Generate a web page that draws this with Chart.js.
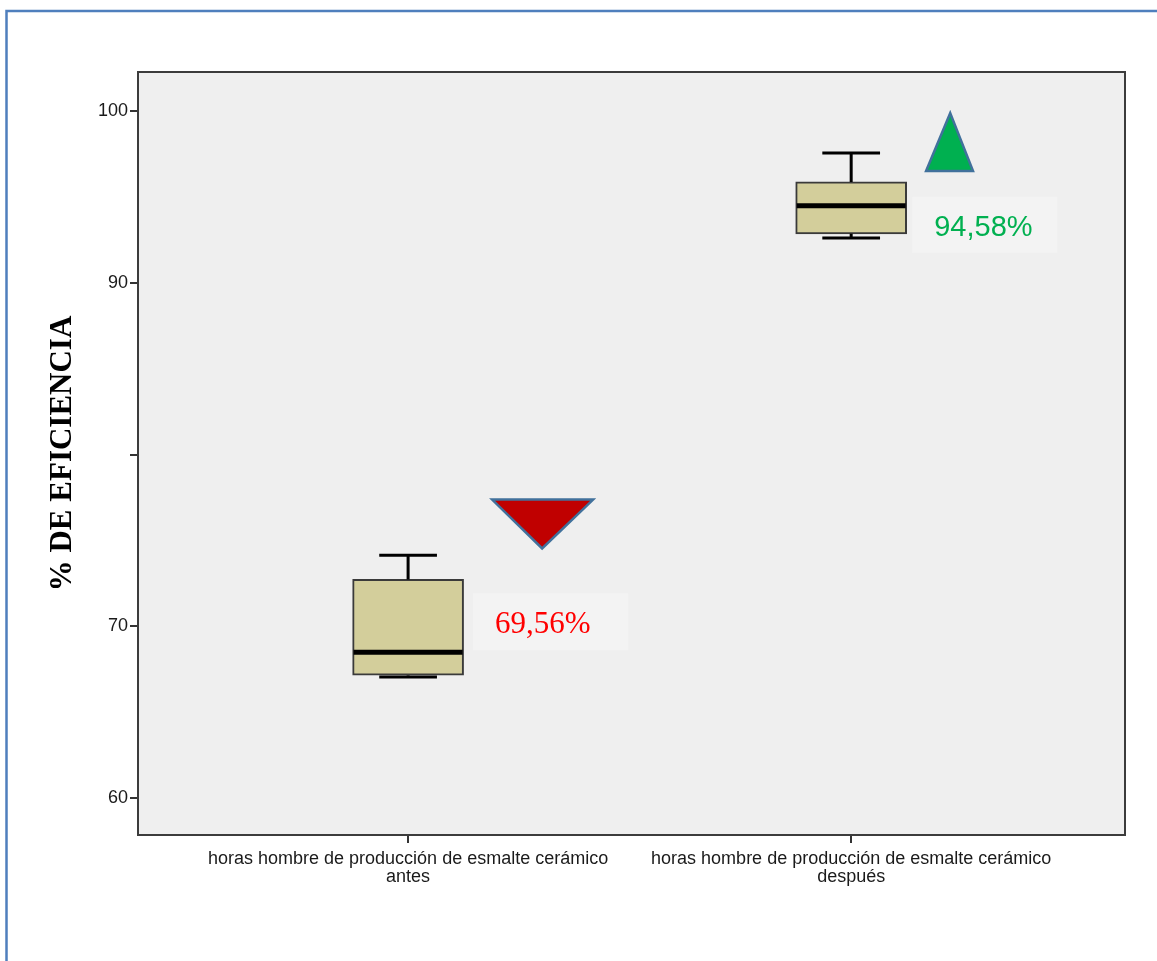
<!DOCTYPE html>
<html>
<head>
<meta charset="utf-8">
<script src="https://cdn.jsdelivr.net/npm/chart.js@4/dist/chart.umd.min.js"></script>
<style>
  html, body { margin: 0; padding: 0; background: #ffffff; }
  #wrap { width: 1157px; height: 961px; }
</style>
</head>
<body>
<div id="wrap"><canvas id="c" width="1157" height="961"></canvas></div>
<script>
// Category labels (two lines each)
const categories = [
  ['horas hombre de producción de esmalte cerámico', 'antes'],
  ['horas hombre de producción de esmalte cerámico', 'después']
];
// Five-number summaries per category
const whiskerLow  = [67.10, 92.67];
const q1Values    = [67.15, 92.85];
const medians     = [68.49, 94.48];
const q3Values    = [72.73, 95.87];
const whiskerHigh = [74.13, 97.56];
// Efficiency averages shown as callouts
const averages    = [69.56, 94.58];
// Y axis ticks and their labels
const yTickValues = [60, 70, 80, 90, 100];
const yTickLabels = ['60', '70', '', '90', '100'];

// Callout decorations, placed in data units
const callouts = [
  { cat: 0, color: '#ff0000', font: '31px "Liberation Serif", "Times New Roman", serif',
    box: { x0: 0.1467, x1: 0.4966, y0: 71.92, y1: 68.60 },
    tri: { x0: 0.1896, x1: 0.4176, xTip: 0.3025, yBase: 77.38, yTip: 74.53, fill: '#c00000' } },
  { cat: 1, color: '#00b050', font: '29px "Liberation Sans", Arial, sans-serif',
    box: { x0: 1.1377, x1: 1.4650, y0: 95.00, y1: 91.74 },
    tri: { x0: 1.169, x1: 1.275, xTip: 1.2235, yBase: 96.51, yTip: 99.88, fill: '#00b050' } }
];

const fmtPct = v => v.toFixed(2).replace('.', ',') + '%';

// Page frame, plot panel and border
const framePlugin = {
  id: 'frame',
  beforeDraw(chart) {
    const ctx = chart.ctx, a = chart.chartArea;
    ctx.save();
    ctx.fillStyle = '#ffffff';
    ctx.fillRect(0, 0, chart.width, chart.height);
    ctx.strokeStyle = '#4f7fbd';
    ctx.lineWidth = 2.5;
    ctx.beginPath();
    ctx.moveTo(6.5, chart.height + 2);
    ctx.lineTo(6.5, 11);
    ctx.lineTo(chart.width + 2, 11);
    ctx.stroke();
    ctx.fillStyle = '#efefef';
    ctx.fillRect(a.left, a.top, a.right - a.left, a.bottom - a.top);
    ctx.restore();
  },
  afterDraw(chart) {
    const ctx = chart.ctx, a = chart.chartArea;
    ctx.save();
    ctx.strokeStyle = '#3c3c3c';
    ctx.lineWidth = 2;
    ctx.strokeRect(a.left, a.top, a.right - a.left, a.bottom - a.top);
    ctx.restore();
  }
};

// Whiskers and medians on top of the boxes
const boxPlugin = {
  id: 'boxParts',
  afterDatasetsDraw(chart) {
    const ctx = chart.ctx, xs = chart.scales.x, ys = chart.scales.y;
    const meta = chart.getDatasetMeta(0);
    ctx.save();
    ctx.strokeStyle = '#000000';
    categories.forEach((_, i) => {
      const xc = xs.getPixelForValue(i);
      const bar = meta.data[i];
      const half = bar.width / 2;
      const cap = half * 0.52;
      const yHi = ys.getPixelForValue(whiskerHigh[i]);
      const yQ3 = ys.getPixelForValue(q3Values[i]);
      const yQ1 = ys.getPixelForValue(q1Values[i]);
      const yLo = ys.getPixelForValue(whiskerLow[i]);
      const yMed = ys.getPixelForValue(medians[i]);
      ctx.lineWidth = 3;
      ctx.beginPath();
      ctx.moveTo(xc, yQ3); ctx.lineTo(xc, yHi);
      ctx.moveTo(xc - cap, yHi); ctx.lineTo(xc + cap, yHi);
      ctx.moveTo(xc, yQ1); ctx.lineTo(xc, yLo);
      ctx.moveTo(xc - cap, yLo + 1); ctx.lineTo(xc + cap, yLo + 1);
      ctx.stroke();
      ctx.lineWidth = 5;
      ctx.beginPath();
      ctx.moveTo(xc - half + 1, yMed); ctx.lineTo(xc + half - 1, yMed);
      ctx.stroke();
    });
    ctx.restore();
  }
};

// Arrow triangles and percentage callouts
const calloutPlugin = {
  id: 'callouts',
  afterDatasetsDraw(chart) {
    const ctx = chart.ctx, xs = chart.scales.x, ys = chart.scales.y;
    ctx.save();
    callouts.forEach(c => {
      const bx0 = xs.getPixelForValue(c.box.x0), bx1 = xs.getPixelForValue(c.box.x1);
      const by0 = ys.getPixelForValue(c.box.y0), by1 = ys.getPixelForValue(c.box.y1);
      ctx.fillStyle = '#f3f3f3';
      ctx.fillRect(bx0, by0, bx1 - bx0, by1 - by0);
      ctx.font = c.font;
      ctx.fillStyle = c.color;
      ctx.textAlign = 'left';
      ctx.textBaseline = 'middle';
      ctx.fillText(fmtPct(averages[c.cat]), bx0 + 22, (by0 + by1) / 2 + 3);

      const t = c.tri;
      ctx.beginPath();
      ctx.moveTo(xs.getPixelForValue(t.x0), ys.getPixelForValue(t.yBase));
      ctx.lineTo(xs.getPixelForValue(t.x1), ys.getPixelForValue(t.yBase));
      ctx.lineTo(xs.getPixelForValue(t.xTip), ys.getPixelForValue(t.yTip));
      ctx.closePath();
      ctx.fillStyle = t.fill;
      ctx.fill();
      ctx.lineWidth = 2.5;
      ctx.strokeStyle = '#41719c';
      ctx.lineJoin = 'miter';
      ctx.stroke();
    });
    ctx.restore();
  }
};

new Chart(document.getElementById('c'), {
  type: 'bar',
  data: {
    datasets: [{
      data: categories.map((_, i) => ({ x: i, y: [q1Values[i], q3Values[i]] })),
      backgroundColor: '#d3ce9b',
      borderColor: '#3a3a3a',
      borderWidth: 2,
      borderSkipped: false,
      barThickness: 111
    }]
  },
  options: {
    responsive: false,
    animation: false,
    layout: { padding: { top: 72, right: 32, left: 0, bottom: 0 } },
    plugins: { legend: { display: false }, tooltip: { enabled: false } },
    scales: {
      x: {
        type: 'linear',
        offset: false,
        min: -0.6096,
        max: 1.618,
        afterFit(s) { s.height = 126; },
        afterBuildTicks(s) { s.ticks = categories.map((_, i) => ({ value: i })); },
        grid: { offset: false, drawOnChartArea: false, tickLength: 8, color: '#333333', lineWidth: 2 },
        border: { display: true, color: '#3c3c3c', width: 2 },
        ticks: {
          autoSkip: false, maxRotation: 0, minRotation: 0, padding: 7,
          color: '#1a1a1a',
          font: { family: '"Liberation Sans", Arial, sans-serif', size: 18, lineHeight: 1.0 },
          callback: v => categories[v]
        }
      },
      y: {
        min: 57.85,
        max: 102.27,
        afterFit(s) { s.width = 138; },
        afterBuildTicks(s) { s.ticks = yTickValues.map(v => ({ value: v })); },
        grid: { drawOnChartArea: false, tickLength: 8, color: '#333333', lineWidth: 2 },
        border: { display: true, color: '#3c3c3c', width: 2 },
        ticks: {
          padding: 2, color: '#1a1a1a',
          font: { family: '"Liberation Sans", Arial, sans-serif', size: 18 },
          callback: v => yTickLabels[yTickValues.indexOf(v)]
        },
        title: {
          display: true,
          text: '% DE EFICIENCIA',
          color: '#000000',
          padding: { top: 44, bottom: 0 },
          font: { family: '"Liberation Serif", "Times New Roman", serif', size: 31, weight: 'bold', lineHeight: 1.2 }
        }
      }
    }
  },
  plugins: [framePlugin, boxPlugin, calloutPlugin]
});
</script>
</body>
</html>
